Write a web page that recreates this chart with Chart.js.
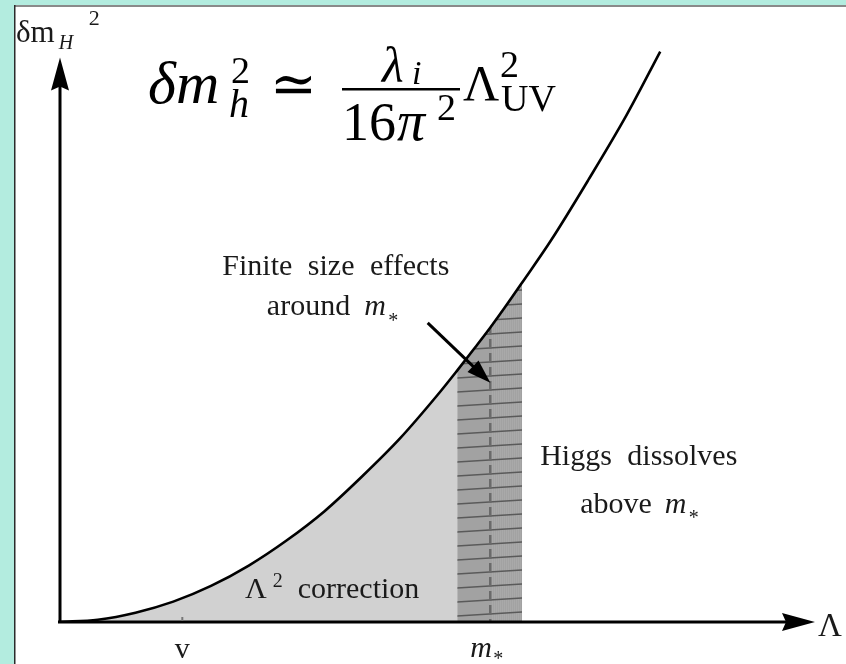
<!DOCTYPE html>
<html>
<head>
<meta charset="utf-8">
<style>
  html, body { margin: 0; padding: 0; background: #b3ecdf; }
  canvas { display: block; }
</style>
<script src="https://cdn.jsdelivr.net/npm/chart.js@4"></script>
</head>
<body>
<canvas id="c" width="846" height="664"></canvas>
<script>
// Cutoff scale Λ (arbitrary units) and the quadratic correction δm_H² it drives
const lambdaValues = [0, 5, 10, 15, 20, 25, 30, 35, 40, 45, 50, 52.6, 55, 57, 59, 61.2, 65, 70, 75, 79.5];
const correctionValues = [0, 0.4, 1.6, 3.5, 6.2, 9.7, 14, 19, 25, 31.5, 39, 43.2, 47.2, 50.6, 54.2, 58.3, 65.5, 76, 87, 98];

// Marked scales on the Λ axis
const vScale = 16.2;       // electroweak scale v
const mStar = 57;          // compositeness scale m*
const bandStart = 52.6;    // finite-size region around m*
const bandEnd = 61.2;
const axisTipY = 97;       // top of the vertical axis arrow

const curvePoints = lambdaValues.map((x, i) => ({ x, y: correctionValues[i] }));
const belowBand = curvePoints.filter(p => p.x <= bandStart);
const inBand = curvePoints.filter(p => p.x >= bandStart && p.x <= bandEnd);

const SERIF = '"Liberation Serif", "Times New Roman", "DejaVu Serif", serif';

let patternCache = null;
function bandPattern(chart) {
  const xs = chart.scales.x, ys = chart.scales.y;
  const x0 = xs.getPixelForValue(bandStart);
  const x1 = xs.getPixelForValue(bandEnd);
  const xm = xs.getPixelForValue(mStar);
  const key = [x0, x1, xm].join(',');
  if (patternCache && patternCache.key === key) return patternCache.p;
  const w = Math.round(x1 - x0), h = 14;
  const c = document.createElement('canvas');
  c.width = w; c.height = h;
  const g = c.getContext('2d');
  g.fillStyle = '#a2a2a2';
  g.fillRect(0, 0, w, h);
  // fine vertical grain on the far side of m*
  g.fillStyle = 'rgba(255,255,255,0.08)';
  for (let i = Math.round(xm - x0) + 2; i < w; i += 2) g.fillRect(i, 0, 1, h);
  // slanted rules
  g.strokeStyle = '#5a5a5a';
  g.lineWidth = 1.3;
  g.beginPath(); g.moveTo(0, 11); g.lineTo(w, 7); g.stroke();
  // dashed m* marker
  g.fillStyle = '#6a6a6a';
  g.fillRect(Math.round(xm - x0) - 1, 0, 2.5, 10);
  const p = chart.ctx.createPattern(c, 'repeat');
  p.setTransform(new DOMMatrix().translate(Math.round(x0), Math.round(ys.getPixelForValue(0)) - 3));
  patternCache = { key, p };
  return p;
}

// Panel, axes, arrows and every label
const decorations = {
  id: 'decorations',
  beforeDraw(chart) {
    const ctx = chart.ctx;
    ctx.save();
    ctx.fillStyle = '#b3ecdf';
    ctx.fillRect(0, 0, chart.width, chart.height);
    ctx.fillStyle = '#ffffff';
    ctx.fillRect(15, 7, chart.width - 15, chart.height - 7);
    ctx.fillStyle = '#8a8a8a';
    ctx.fillRect(15, 5, chart.width - 15, 2);
    ctx.fillStyle = '#2b2b2b';
    ctx.fillRect(14, 5, 1.5, chart.height - 5);
    ctx.restore();
  },
  afterDraw(chart) {
    const ctx = chart.ctx;
    const xs = chart.scales.x, ys = chart.scales.y;
    const X = v => xs.getPixelForValue(v);
    const Y = v => ys.getPixelForValue(v);
    const x0 = X(0), y0 = Y(0);
    ctx.save();

    // axes
    ctx.strokeStyle = '#000'; ctx.fillStyle = '#000';
    ctx.lineWidth = 3;
    ctx.beginPath();
    ctx.moveTo(x0, y0 + 1.5); ctx.lineTo(x0, Y(axisTipY) + 25);
    ctx.moveTo(x0 - 2, y0); ctx.lineTo(X(100) - 25, y0);
    ctx.stroke();
    const tipY = Y(axisTipY);
    ctx.beginPath();
    ctx.moveTo(x0, tipY); ctx.lineTo(x0 + 9, tipY + 33); ctx.lineTo(x0, tipY + 29); ctx.lineTo(x0 - 9, tipY + 33);
    ctx.closePath(); ctx.fill();
    const tipX = X(100);
    ctx.beginPath();
    ctx.moveTo(tipX, y0); ctx.lineTo(tipX - 33, y0 - 9); ctx.lineTo(tipX - 29, y0); ctx.lineTo(tipX - 33, y0 + 9);
    ctx.closePath(); ctx.fill();

    // small tick at v
    ctx.fillStyle = '#777';
    ctx.fillRect(X(vScale) - 1, y0 - 5, 2, 4);

    // arrow pointing into the finite-size band
    const ax0 = X(48.7), ay0 = Y(51.4), ax1 = X(mStar), ay1 = Y(41.1);
    const ang = Math.atan2(ay1 - ay0, ax1 - ax0);
    ctx.strokeStyle = '#000'; ctx.fillStyle = '#000';
    ctx.lineWidth = 3;
    ctx.beginPath(); ctx.moveTo(ax0, ay0);
    ctx.lineTo(ax1 - 18 * Math.cos(ang), ay1 - 18 * Math.sin(ang)); ctx.stroke();
    ctx.beginPath();
    ctx.moveTo(ax1, ay1);
    ctx.lineTo(ax1 - 24 * Math.cos(ang) + 8 * Math.sin(ang), ay1 - 24 * Math.sin(ang) - 8 * Math.cos(ang));
    ctx.lineTo(ax1 - 24 * Math.cos(ang) - 8 * Math.sin(ang), ay1 - 24 * Math.sin(ang) + 8 * Math.cos(ang));
    ctx.closePath(); ctx.fill();

    // text helpers
    ctx.fillStyle = '#1a1a1a';
    ctx.textBaseline = 'alphabetic';
    ctx.textAlign = 'left';
    const txt = (s, x, y, size, italic) => {
      ctx.font = (italic ? 'italic ' : '') + size + 'px ' + SERIF;
      ctx.fillText(s, x, y);
      return x + ctx.measureText(s).width;
    };
    const wide = s => { try { ctx.wordSpacing = s; } catch (e) {} };

    // in-plot annotations
    wide('8px');
    txt('Finite size effects', X(21.5), Y(59.6), 30, false);
    let e = txt('around', X(27.4), Y(52.7), 30, false);
    txt('m', e + 14, Y(52.7), 30, true);
    txt('*', e + 38, Y(52.7) + 12, 20, false);
    txt('Higgs dissolves', X(63.6), Y(27), 30, false);
    e = txt('above', X(68.9), Y(18.7), 30, false);
    txt('m', e + 13, Y(18.7), 30, true);
    txt('*', e + 37, Y(18.7) + 11, 20, false);
    wide('0px');
    e = txt('\u039B', X(24.5), Y(4.1), 30, false);
    txt('2', e + 6, Y(4.1) - 11, 20, false);
    txt('correction', e + 31, Y(4.1), 30, false);

    // axis labels
    ctx.textAlign = 'center';
    txt('v', X(vScale), y0 + 36, 30, false);
    ctx.textAlign = 'left';
    txt('m', X(mStar) - 20, y0 + 35, 30, true);
    txt('*', X(mStar) + 3, y0 + 43, 20, false);
    txt('\u039B', tipX + 3, y0 + 14, 33, false);

    // vertical axis label δm_H²
    e = txt('\u03B4m', 16, 42, 31, false);
    txt('H', e + 4, 49, 20, true);
    txt('2', e + 34, 25, 22, false);

    // formula δm_h² ≃ λ_i/(16π²) Λ_UV²
    ctx.fillStyle = '#000';
    txt('\u03B4m', 148, 103, 60, true);
    txt('h', 229, 117, 40, true);
    txt('2', 231, 83, 38, false);
    txt('\u2243', 270, 103, 56, false);
    ctx.fillRect(342, 88, 118, 2.5);
    txt('\u03BB', 382, 82, 50, true);
    txt('i', 412, 84, 34, true);
    e = txt('16', 342, 140, 54, false);
    txt('\u03C0', e + 1, 140, 56, true);
    txt('2', 437, 120, 38, false);
    txt('\u039B', 463, 100, 50, false);
    txt('2', 500, 77, 38, false);
    txt('UV', 501, 111, 38, false);

    ctx.restore();
  }
};

new Chart(document.getElementById('c'), {
  type: 'line',
  data: {
    datasets: [
      {
        data: curvePoints,
        order: 0,
        borderColor: '#000',
        borderWidth: 2.6,
        fill: false,
        pointRadius: 0,
        cubicInterpolationMode: 'monotone'
      },
      {
        data: inBand,
        order: 1,
        borderWidth: 0,
        borderColor: 'rgba(0,0,0,0)',
        backgroundColor: ctx => (ctx.chart.chartArea ? bandPattern(ctx.chart) : '#a2a2a2'),
        fill: 'origin',
        pointRadius: 0,
        cubicInterpolationMode: 'monotone'
      },
      {
        data: belowBand,
        order: 2,
        borderWidth: 0,
        borderColor: 'rgba(0,0,0,0)',
        backgroundColor: '#d1d1d1',
        fill: 'origin',
        pointRadius: 0,
        cubicInterpolationMode: 'monotone'
      }
    ]
  },
  options: {
    responsive: false,
    animation: false,
    devicePixelRatio: 1,
    layout: { padding: { left: 60, right: 31, top: 40, bottom: 42 } },
    plugins: { legend: { display: false }, tooltip: { enabled: false } },
    scales: {
      x: { type: 'linear', min: 0, max: 100, display: false },
      y: { type: 'linear', min: 0, max: 100, display: false }
    }
  },
  plugins: [decorations]
});
</script>
</body>
</html>
